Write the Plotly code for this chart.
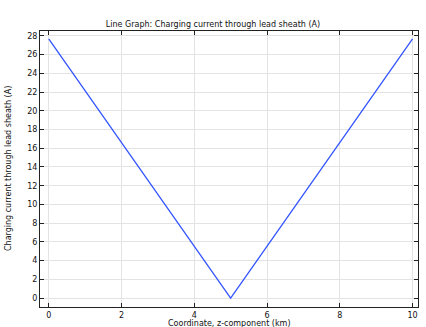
import plotly.graph_objects as go

# Data
z_km = [0, 5, 10]
current_A = [27.7, 0.0, 27.7]
x_ticks = [0, 2, 4, 6, 8, 10]
y_ticks = list(range(0, 29, 2))

fig = go.Figure()
fig.add_trace(go.Scatter(x=z_km, y=current_A, mode="lines",
                         line=dict(color="#3355ff", width=1.3), showlegend=False))

font = dict(family="DejaVu Sans", size=8, color="#111")
axis_common = dict(showline=True, linecolor="#222", linewidth=1, mirror="ticks",
                   ticks="inside", ticklen=4, tickcolor="#222", automargin=False,
                   showgrid=True, gridcolor="#e3e3e3", gridwidth=1, zeroline=False,
                   tickfont=font)

fig.update_layout(
    width=426, height=327,
    margin=dict(l=40, r=8, t=31, b=20),
    paper_bgcolor="white", plot_bgcolor="white",
    title=dict(text="Line Graph: Charging current through lead sheath (A)",
               x=0.5, xanchor="center", y=0.927, yanchor="middle", font=font),
    xaxis=dict(range=[-0.24, 10.15], tickvals=x_ticks, **axis_common),
    yaxis=dict(range=[-0.96, 28.53], tickvals=y_ticks, **axis_common),
    annotations=[
        dict(text="Coordinate, z-component (km)", xref="paper", yref="paper",
             x=0.5, y=0, xanchor="center", yanchor="top", yshift=-10,
             showarrow=False, font=font),
        dict(text="Charging current through lead sheath (A)", xref="paper", yref="paper",
             x=0, y=0.5, xanchor="center", yanchor="middle", xshift=-32, textangle=-90,
             showarrow=False, font=font),
    ],
)
fig.write_html("out.html")
